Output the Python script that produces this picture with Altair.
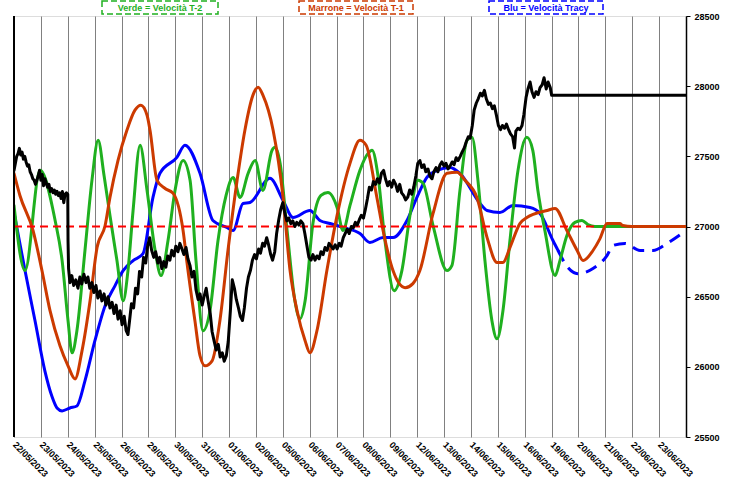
import json
import altair as alt
import pandas as pd

dates = ["22/05/2023", "23/05/2023", "24/05/2023", "25/05/2023", "26/05/2023",
         "29/05/2023", "30/05/2023", "31/05/2023", "01/06/2023", "02/06/2023",
         "05/06/2023", "06/06/2023", "07/06/2023", "08/06/2023", "09/06/2023",
         "12/06/2023", "13/06/2023", "14/06/2023", "15/06/2023", "16/06/2023",
         "19/06/2023", "20/06/2023", "21/06/2023", "22/06/2023", "23/06/2023"]
y_ticks = [25500, 26000, 26500, 27000, 27500, 28000, 28500]
legend_texts = ["Verde = Velocità T-2", "Marrone = Velocità T-1", "Blu = Velocità Tracy"]
zero_level = 27000

# (day index, value)
blue_solid = [(0, 27100), (0.41, 26686), (0.78, 26330), (1.15, 25970), (1.41, 25790),
              (1.60, 25707), (1.79, 25686), (2.08, 25707), (2.34, 25721), (2.64, 25900),
              (3.01, 26186), (3.39, 26436), (3.76, 26579), (4.06, 26686), (4.43, 26757),
              (4.80, 26807), (5.17, 27207), (5.43, 27379), (6.06, 27493), (6.36, 27579),
              (6.92, 27379), (7.40, 27043), (7.92, 26993), (8.15, 26971), (8.52, 27164),
              (8.78, 27171), (9.52, 27343), (10.01, 27186), (10.38, 27064), (11.01, 27114),
              (11.38, 27043), (11.76, 27021), (12.24, 26993), (12.87, 26950), (13.24, 26886),
              (13.73, 26921), (14.10, 26921), (14.62, 27043), (14.99, 27207), (15.36, 27350),
              (15.74, 27400), (16.22, 27421), (16.59, 27379), (17.34, 27164), (17.60, 27114),
              (18.08, 27100), (18.56, 27150), (19.20, 27136), (19.57, 27093), (20.05, 26900),
              (20.24, 26829)]
blue_dashed = [(20.24, 26829), (20.61, 26707), (20.98, 26664), (21.54, 26700), (22.06, 26793),
               (22.28, 26864), (22.73, 26879), (23.29, 26829), (23.77, 26829), (24.29, 26879),
               (25.0, 26971)]

green = [(0, 27150), (0.41, 26686), (0.97, 27400), (1.53, 27043), (1.79, 26757), (2.01, 26329),
         (2.16, 26100), (2.34, 26257), (2.64, 26829), (2.90, 27329), (3.13, 27614), (3.35, 27364),
         (3.57, 27079), (3.83, 26757), (4.06, 26471), (4.24, 26686), (4.43, 27114), (4.69, 27579),
         (4.95, 27257), (5.25, 26829), (5.47, 26650), (5.73, 26900), (5.99, 27257), (6.29, 27471),
         (6.55, 27329), (6.77, 26757), (7.03, 26257), (7.29, 26400), (7.59, 26900), (7.89, 27221),
         (8.15, 27350), (8.41, 27207), (8.71, 27379), (8.97, 27471), (9.26, 27257), (9.60, 27543),
         (9.71, 27564), (9.90, 27450), (10.16, 26971), (10.45, 26471), (10.64, 26343), (10.83, 26471),
         (11.12, 27021), (11.42, 27221), (11.68, 27243), (12.02, 27136), (12.24, 26971), (12.50, 27150),
         (12.87, 27400), (13.17, 27521), (13.32, 27543), (13.54, 27364), (13.80, 26900), (14.14, 26543),
         (14.43, 26686), (14.73, 27079), (15.03, 27329), (15.22, 27307), (15.59, 27007), (16.11, 26686),
         (16.29, 26721), (16.59, 27257), (16.85, 27614), (17.04, 27636), (17.26, 27329), (17.52, 26757),
         (17.78, 26329), (17.97, 26200), (18.19, 26400), (18.45, 26900), (18.75, 27400), (19.08, 27636),
         (19.30, 27543), (19.49, 27257), (19.75, 26971), (20.13, 26650), (20.31, 26757), (20.57, 26936),
         (20.87, 27029), (21.13, 27043), (21.35, 27014), (21.61, 27000), (25.0, 27000)]

brown = [(0, 27379), (0.22, 27221), (0.71, 26971), (1.04, 26686), (1.34, 26400), (1.71, 26150),
         (2.01, 26007), (2.27, 25914), (2.53, 26114), (2.83, 26471), (3.09, 26850), (3.39, 27007),
         (3.57, 27207), (3.87, 27471), (4.20, 27686), (4.50, 27829), (4.72, 27864), (4.95, 27793),
         (5.06, 27686), (5.32, 27329), (5.62, 27271), (5.92, 27236), (6.29, 26971), (6.44, 26736),
         (6.73, 26329), (6.92, 26079), (7.11, 26007), (7.37, 26043), (7.66, 26329), (7.96, 26829),
         (8.30, 27329), (8.59, 27686), (8.89, 27936), (9.08, 27993), (9.26, 27936), (9.64, 27686),
         (10.01, 27207), (10.27, 26686), (10.53, 26400), (10.83, 26186), (11.01, 26100), (11.27, 26257),
         (11.64, 26686), (12.02, 27079), (12.50, 27450), (12.87, 27614), (13.10, 27579), (13.50, 27207),
         (13.73, 26971), (14.10, 26686), (14.55, 26564), (14.84, 26593), (15.10, 26686), (15.59, 27093),
         (16.11, 27379), (16.48, 27386), (16.78, 27329), (17.22, 27207), (17.60, 26921), (17.97, 26743),
         (18.19, 26743), (18.45, 26850), (18.82, 27021), (19.08, 27064), (19.83, 27114), (20.13, 27129),
         (20.57, 26971), (20.95, 26829), (21.17, 26757), (21.54, 26829), (21.80, 26914), (22.06, 27021),
         (22.54, 27021), (22.65, 27007), (22.99, 27000), (25.0, 27000)]

black = [(0.00, 27400), (0.05, 27450), (0.10, 27500), (0.15, 27520), (0.20, 27557), (0.25, 27510),
         (0.30, 27530), (0.35, 27480), (0.40, 27500), (0.45, 27460), (0.50, 27430), (0.55, 27440),
         (0.60, 27390), (0.65, 27370), (0.70, 27340), (0.75, 27330), (0.80, 27300), (0.85, 27330),
         (0.90, 27360), (0.95, 27400), (1.00, 27330), (1.05, 27370), (1.10, 27290), (1.15, 27340),
         (1.20, 27310), (1.25, 27280), (1.30, 27300), (1.35, 27250), (1.40, 27270), (1.45, 27240),
         (1.50, 27260), (1.55, 27230), (1.60, 27250), (1.65, 27220), (1.70, 27240), (1.75, 27200),
         (1.80, 27250), (1.85, 27170), (1.90, 27230), (1.95, 27240), (2.00, 27230),
         (2.01, 26900), (2.03, 26700), (2.08, 26600), (2.15, 26650), (2.22, 26580), (2.30, 26620),
         (2.38, 26560), (2.45, 26640), (2.52, 26590), (2.60, 26660), (2.68, 26600), (2.75, 26640),
         (2.82, 26560), (2.90, 26600), (2.97, 26530), (3.05, 26580), (3.12, 26490), (3.20, 26540),
         (3.27, 26470), (3.35, 26520), (3.42, 26440), (3.50, 26500), (3.57, 26420), (3.65, 26460),
         (3.72, 26380), (3.80, 26440), (3.87, 26340), (3.95, 26400), (4.02, 26300), (4.10, 26360),
         (4.17, 26260), (4.24, 26230), (4.30, 26330), (4.37, 26450), (4.45, 26420), (4.52, 26560),
         (4.60, 26520), (4.67, 26680), (4.75, 26640), (4.82, 26780), (4.90, 26740), (4.97, 26860),
         (5.05, 26920), (5.12, 26830), (5.20, 26780), (5.27, 26820), (5.35, 26740), (5.42, 26780),
         (5.50, 26700), (5.57, 26750), (5.65, 26710), (5.72, 26790), (5.80, 26760), (5.87, 26830),
         (5.95, 26790), (6.02, 26860), (6.10, 26820), (6.17, 26880), (6.25, 26840), (6.32, 26800),
         (6.40, 26850), (6.47, 26770), (6.55, 26720), (6.62, 26640), (6.70, 26680), (6.77, 26550),
         (6.85, 26480), (6.92, 26520), (7.00, 26440), (7.07, 26500), (7.15, 26560), (7.22, 26470),
         (7.30, 26380), (7.37, 26250), (7.45, 26180), (7.52, 26120), (7.60, 26160), (7.67, 26070),
         (7.75, 26100), (7.82, 26040), (7.90, 26080), (7.97, 26180), (8.05, 26400), (8.12, 26620),
         (8.20, 26560), (8.27, 26480), (8.35, 26420), (8.42, 26360), (8.50, 26330), (8.57, 26420),
         (8.65, 26560), (8.72, 26640), (8.80, 26690), (8.87, 26760), (8.95, 26800), (9.02, 26770),
         (9.10, 26840), (9.17, 26810), (9.25, 26880), (9.32, 26860), (9.40, 26920), (9.47, 26870),
         (9.55, 26800), (9.62, 26760), (9.70, 26820), (9.77, 26950), (9.85, 27050), (9.92, 27120),
         (10.00, 27170), (10.07, 27100), (10.15, 27040), (10.22, 27060), (10.30, 27020), (10.37, 27040),
         (10.45, 27000), (10.52, 27030), (10.60, 27010), (10.67, 27040), (10.75, 27020), (10.82, 26950),
         (10.90, 26860), (10.97, 26780), (11.05, 26760), (11.12, 26800), (11.20, 26760), (11.27, 26790),
         (11.35, 26770), (11.42, 26820), (11.50, 26800), (11.57, 26850), (11.65, 26830), (11.72, 26880),
         (11.80, 26860), (11.87, 26840), (11.95, 26870), (12.02, 26840), (12.10, 26880), (12.17, 26860),
         (12.25, 26920), (12.32, 26950), (12.40, 26980), (12.47, 26950), (12.55, 27000), (12.62, 26990),
         (12.70, 27030), (12.77, 27010), (12.85, 27050), (12.92, 27080), (13.00, 27060), (13.07, 27120),
         (13.15, 27200), (13.22, 27280), (13.30, 27260), (13.37, 27320), (13.45, 27300), (13.52, 27340),
         (13.60, 27310), (13.67, 27380), (13.75, 27400), (13.82, 27340), (13.90, 27290), (13.97, 27320),
         (14.05, 27280), (14.12, 27330), (14.20, 27300), (14.27, 27250), (14.35, 27300), (14.42, 27240),
         (14.50, 27220), (14.57, 27190), (14.65, 27210), (14.72, 27260), (14.80, 27230), (14.87, 27280),
         (14.95, 27360), (15.02, 27450), (15.10, 27470), (15.17, 27420), (15.25, 27440), (15.32, 27390),
         (15.40, 27410), (15.47, 27360), (15.55, 27340), (15.62, 27390), (15.70, 27420), (15.77, 27390),
         (15.85, 27440), (15.92, 27460), (16.00, 27430), (16.07, 27450), (16.15, 27410), (16.22, 27430),
         (16.30, 27460), (16.37, 27440), (16.45, 27490), (16.52, 27470), (16.60, 27500), (16.67, 27530),
         (16.75, 27560), (16.82, 27600), (16.90, 27640), (16.97, 27630), (17.05, 27720), (17.12, 27830),
         (17.20, 27880), (17.27, 27910), (17.35, 27950), (17.42, 27930), (17.50, 27970), (17.57, 27910),
         (17.65, 27870), (17.72, 27880), (17.80, 27840), (17.87, 27860), (17.95, 27790), (18.02, 27720),
         (18.10, 27690), (18.17, 27720), (18.25, 27700), (18.32, 27730), (18.40, 27690), (18.47, 27660),
         (18.55, 27640), (18.62, 27560), (18.67, 27680), (18.75, 27700), (18.82, 27690), (18.90, 27720),
         (18.97, 27800), (19.05, 27920), (19.12, 27980), (19.20, 28030), (19.27, 27960), (19.35, 27920),
         (19.42, 27960), (19.50, 27940), (19.57, 27990), (19.65, 28010), (19.72, 28060), (19.80, 27980),
         (19.87, 28030), (19.95, 27990), (20.00, 27936), (25.00, 27936)]

GREEN = "#1fb01f"
BROWN = "#cc3a00"
BLUE = "#0000ff"
FONT = "Liberation Sans"


def frame(pairs):
    return pd.DataFrame({"d": [p[0] for p in pairs], "v": [p[1] for p in pairs]})


label_expr = json.dumps(dates) + "[datum.value] || ''"

x_enc = alt.X("d:Q",
              scale=alt.Scale(domain=[0, 25], nice=False, zero=False),
              axis=alt.Axis(values=list(range(26)), labelExpr=label_expr, labelAngle=45,
                            labelAlign="left", labelBaseline="middle", labelPadding=6,
                            labelFontSize=9, labelFontWeight="bold", labelFont=FONT,
                            labelColor="black", labelOverlap=False, labelFlush=False,
                            grid=True, gridColor="#808080", gridWidth=1, domain=False,
                            ticks=False, title=None))
y_enc = alt.Y("v:Q",
              scale=alt.Scale(domain=[25500, 28500], nice=False, zero=False),
              axis=alt.Axis(orient="right", values=y_ticks, format="d", grid=False,
                            domainColor="black", domainWidth=1.5, tickColor="black",
                            tickSize=4, labelPadding=4, labelFontSize=9,
                            labelFontWeight="bold", labelFont=FONT, labelColor="black",
                            labelFlush=False, title=None))


def line(pairs, color, dash=None, interp="monotone"):
    kw = dict(color=color, strokeWidth=3, strokeJoin="round", strokeCap="round", clip=True,
              interpolate=interp)
    if dash:
        kw["strokeDash"] = dash
        kw["strokeCap"] = "butt"
    return alt.Chart(frame(pairs)).mark_line(**kw).encode(x=x_enc, y=y_enc, order="d:Q")


left_axis = alt.Chart(pd.DataFrame({"d": [0]})).mark_rule(color="black", strokeWidth=2).encode(
    x=x_enc)
zero_line = alt.Chart(pd.DataFrame({"d": [0], "d2": [21.6], "v": [zero_level]})).mark_rule(
    color="#ff0000", strokeWidth=2, strokeDash=[8, 5]).encode(
    x=x_enc, x2="d2:Q", y=y_enc)

layers = [line(blue_solid, BLUE), line(blue_dashed, BLUE, [12, 8]),
          line(green, GREEN), line(brown, BROWN), zero_line,
          line(black, "black", interp="linear"), left_axis]

legend_specs = [(88, 204, GREEN), (285, 399, BROWN), (475, 589, BLUE)]
for txt, (x0, x1, col) in zip(legend_texts, legend_specs):
    df = pd.DataFrame({"t": [txt]})
    box = alt.Chart(df).mark_rect(fillOpacity=0, stroke=col, strokeWidth=1.5,
                                  strokeDash=[6, 3]).encode(
        x=alt.value(x0), x2=alt.value(x1), y=alt.value(-15), y2=alt.value(-2))
    lab = alt.Chart(df).mark_text(color=col, font=FONT, fontSize=9, fontWeight="bold",
                                  align="center", baseline="middle").encode(
        text="t:N", x=alt.value((x0 + x1) / 2), y=alt.value(-8))
    layers += [box, lab]

chart = alt.layer(*layers).properties(
    width=672, height=421,
    autosize=alt.AutoSizeParams(type="none"),
    padding={"left": 14, "top": 16, "right": 43, "bottom": 47},
).configure_view(stroke="#808080", strokeWidth=1).configure(background="white")

chart.save("out.html", embed_options={"renderer": "svg", "actions": False})
